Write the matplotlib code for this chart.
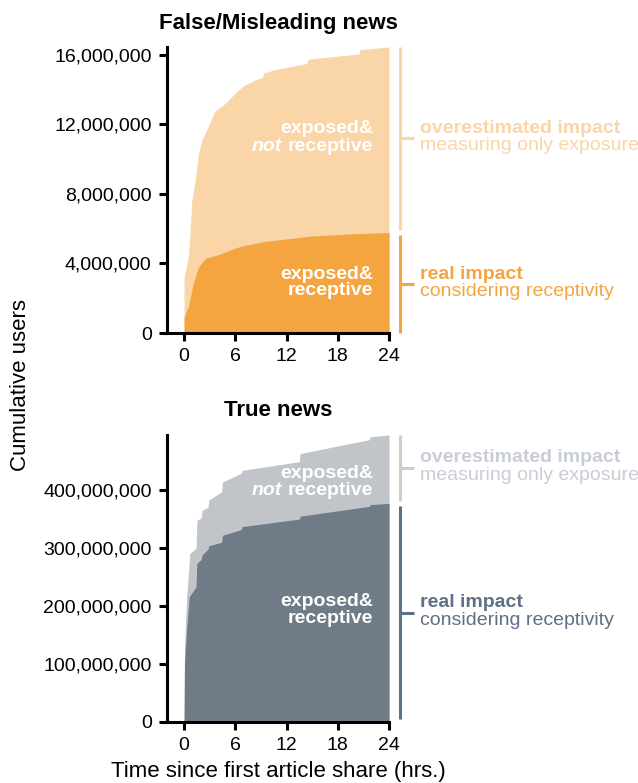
import matplotlib.pyplot as plt
import matplotlib.transforms as mtransforms
from matplotlib.ticker import FuncFormatter

plt.rcParams['font.family'] = ['Liberation Sans', 'DejaVu Sans']

# ---------------------------------------------------------
# data (hours since first share, cumulative users)
# ---------------------------------------------------------
false_total_t = [0, 0.1, 0.5, 0.7, 0.9, 1.3, 1.7, 2.1, 2.85, 3.6, 4.8, 6.0, 6.9,
                 8.3, 9.2, 9.3, 10.6, 14.35, 14.5, 19.5, 20.5, 20.6, 24]
false_total = [3.2e6, 3.45e6, 4.4e6, 5.75e6, 7.6e6, 8.8e6, 10.35e6, 11.1e6, 11.9e6,
               12.75e6, 13.2e6, 13.8e6, 14.2e6, 14.55e6, 14.7e6, 14.95e6, 15.14e6,
               15.5e6, 15.75e6, 16.0e6, 16.05e6, 16.3e6, 16.45e6]
false_real_t = [0, 0.5, 1.1, 1.7, 2.5, 4.0, 5.8, 6.75, 9.3, 11.8, 14.9, 19.4, 24]
false_real = [0.94e6, 1.5e6, 2.9e6, 3.8e6, 4.3e6, 4.5e6, 4.85e6, 5.0e6, 5.25e6,
              5.4e6, 5.58e6, 5.7e6, 5.78e6]

true_total_t = [0, 0.05, 0.3, 0.6, 0.65, 1.4, 1.5, 2.0, 2.1, 2.8, 2.9, 4.4, 4.5,
                6.7, 6.8, 13.5, 13.6, 21.7, 21.8, 24]
true_total = [0, 130e6, 216e6, 274e6, 290e6, 300e6, 348e6, 352e6, 365e6, 370e6,
              383e6, 397e6, 414e6, 429e6, 434e6, 449e6, 463e6, 487e6, 492e6, 495e6]
true_real_t = [0, 0.05, 0.3, 0.6, 1.4, 1.5, 2.0, 2.1, 2.8, 2.9, 4.4, 4.5, 6.7,
               6.8, 13.5, 13.6, 21.7, 21.8, 24]
true_real = [0, 100e6, 160e6, 216e6, 233e6, 274e6, 280e6, 288e6, 298e6, 304e6,
             310e6, 322e6, 332e6, 337e6, 350e6, 355e6, 372e6, 375e6, 377e6]

false_yticks = [0, 4e6, 8e6, 12e6, 16e6]
true_yticks = [0, 100e6, 200e6, 300e6, 400e6]
xticks = [0, 6, 12, 18, 24]

ORANGE_LIGHT = "#F9D5A7"
ORANGE_DARK = "#F4A540"
GRAY_LIGHT = "#C1C5C9"
GRAY_DARK = "#6F7B86"
GRAY_BR_LIGHT = "#C8CDD6"
GRAY_BR_DARK = "#5E7085"

fig = plt.figure(figsize=(6.38, 7.83), dpi=100)
W, H = 638, 783


def px_axes(left, top, right, bottom):
    return fig.add_axes([left / W, 1 - bottom / H, (right - left) / W, (bottom - top) / H])


ax_false = px_axes(167, 47, 389, 333)
ax_true = px_axes(167, 435, 389, 722)


def style_axes(ax, yticks, ymax):
    ax.set_xlim(-2, 24)
    ax.set_ylim(0, ymax)
    for side in ["top", "right"]:
        ax.spines[side].set_visible(False)
    for side in ["left", "bottom"]:
        ax.spines[side].set_linewidth(2.2)
    ax.set_xticks(xticks)
    ax.set_yticks(yticks)
    ax.yaxis.set_major_formatter(FuncFormatter(lambda v, p: f"{int(v):,}"))
    ax.tick_params(width=2.2, length=6, labelsize=14, pad=5)


def inner_labels(ax, x, y_top, y_bot, not_line):
    ax.text(x, y_top, "exposed&", ha="right", va="center", color="white",
            fontsize=14, fontweight="bold")
    rec = ax.text(x, y_bot, "receptive", ha="right", va="center", color="white",
                  fontsize=14, fontweight="bold")
    if not_line:
        ax.annotate("not", xy=(0, 0), xycoords=rec, xytext=(-4, 0),
                    textcoords="offset points", ha="right", va="bottom",
                    color="white", fontsize=14, fontweight="bold", style="italic")


def bracket(ax, y0, y1, color, text_color, bold, regular):
    trans = mtransforms.blended_transform_factory(ax.transAxes, ax.transData)
    mid = (y0 + y1) / 2
    ax.plot([1.0495, 1.0495], [y0, y1], color=color, lw=2.2, transform=trans,
            clip_on=False, solid_capstyle="butt")
    ax.plot([1.0495, 1.1126], [mid, mid], color=color, lw=2.2, transform=trans,
            clip_on=False, solid_capstyle="butt")
    ax.annotate(bold, xy=(1.1396, mid), xycoords=trans, xytext=(0, 7.2),
                textcoords="offset points", ha="left", va="center",
                color=text_color, fontsize=14, fontweight="bold")
    ax.annotate(regular, xy=(1.1396, mid), xycoords=trans, xytext=(0, -5.4),
                textcoords="offset points", ha="left", va="center",
                color=text_color, fontsize=14)


# False / misleading news
ymax_f = false_total[-1]
style_axes(ax_false, false_yticks, ymax_f)
ax_false.fill_between(false_total_t, 0, false_total, color=ORANGE_LIGHT, lw=0)
ax_false.fill_between(false_real_t, 0, false_real, color=ORANGE_DARK, lw=0)
inner_labels(ax_false, 22.1, 11.74e6, 10.71e6, True)
inner_labels(ax_false, 22.1, 3.34e6, 2.42e6, False)
gap_f = 0.009 * ymax_f
bracket(ax_false, false_real[-1] + gap_f, false_total[-1], ORANGE_LIGHT, ORANGE_LIGHT,
        "overestimated impact", "measuring only exposure")
bracket(ax_false, 0, false_real[-1] - gap_f, ORANGE_DARK, ORANGE_DARK,
        "real impact", "considering receptivity")

# True news
ymax_t = true_total[-1]
style_axes(ax_true, true_yticks, ymax_t)
ax_true.fill_between(true_total_t, 0, true_total, color=GRAY_LIGHT, lw=0)
ax_true.fill_between(true_real_t, 0, true_real, color=GRAY_DARK, lw=0)
inner_labels(ax_true, 22.1, 429e6, 400e6, True)
inner_labels(ax_true, 22.1, 207e6, 178e6, False)
gap_t = 0.009 * ymax_t
bracket(ax_true, true_real[-1] + gap_t, true_total[-1], GRAY_BR_LIGHT, GRAY_BR_LIGHT,
        "overestimated impact", "measuring only exposure")
bracket(ax_true, 0.01 * ymax_t, true_real[-1] - gap_t, GRAY_BR_DARK, GRAY_BR_DARK,
        "real impact", "considering receptivity")

fig.text(278 / W, 1 - 24 / H, "False/Misleading news", ha="center", va="center",
         fontsize=16, fontweight="bold")
fig.text(278 / W, 1 - 410 / H, "True news", ha="center", va="center",
         fontsize=16, fontweight="bold")
fig.text(21 / W, 1 - 385 / H, "Cumulative users", ha="center", va="center",
         rotation=90, fontsize=16)
fig.text(278 / W, 1 - 772 / H, "Time since first article share (hrs.)",
         ha="center", va="center", fontsize=16)

fig.savefig("out.png", dpi=100)
